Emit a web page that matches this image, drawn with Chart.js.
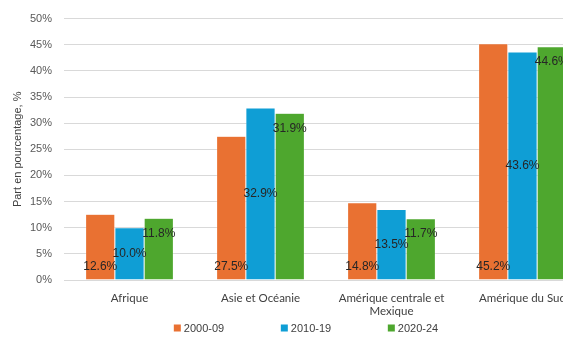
<!DOCTYPE html>
<html>
<head>
<meta charset="utf-8">
<script src="https://cdn.jsdelivr.net/npm/chart.js@4.4.1/dist/chart.umd.min.js"></script>
<style>
  html, body { margin: 0; padding: 0; background: #ffffff; overflow: hidden; }
  #wrap { width: 612px; height: 341px; }
</style>
</head>
<body>
<div id="wrap"><canvas id="c" width="612" height="341"></canvas></div>
<script>
// Regional shares by period (percent)
const categories = ['Afrique', 'Asie et Océanie', ['Amérique centrale et', 'Mexique'], 'Amérique du Sud'];
const seriesNames = ['2000-09', '2010-19', '2020-24'];
const values2000 = [12.6, 27.5, 14.8, 45.2];
const values2010 = [10.0, 32.9, 13.5, 43.6];
const values2020 = [11.8, 31.9, 11.7, 44.6];
const colors = ['#E97132', '#0F9ED5', '#4EA72E'];
const labelPlacement = ['base', 'center', 'end'];

const textFont = '11px "Liberation Sans", Arial, sans-serif';

// Value labels: first series at the bar base, second in the middle, third near the top
const valueLabels = {
  id: 'valueLabels',
  afterDatasetsDraw(chart) {
    const ctx = chart.ctx;
    ctx.save();
    ctx.font = '12px "Liberation Sans", Arial, sans-serif';
    ctx.fillStyle = '#262626';
    ctx.textAlign = 'center';
    ctx.textBaseline = 'middle';
    chart.data.datasets.forEach((ds, di) => {
      const meta = chart.getDatasetMeta(di);
      meta.data.forEach((bar, i) => {
        const v = ds.data[i];
        let y;
        if (labelPlacement[di] === 'base') y = bar.base - 13;
        else if (labelPlacement[di] === 'center') y = (bar.base + bar.y) / 2;
        else y = bar.y + 15;
        ctx.fillText(v.toFixed(1) + '%', bar.x, y);
      });
    });
    ctx.restore();
  }
};

// Legend row along the bottom edge, items on a fixed stride
const bottomLegend = {
  id: 'bottomLegend',
  afterDraw(chart) {
    const ctx = chart.ctx;
    ctx.save();
    ctx.font = textFont;
    ctx.textBaseline = 'middle';
    ctx.textAlign = 'left';
    const stride = 107, box = 7, gap = 3;
    const lastW = box + gap + ctx.measureText(seriesNames[seriesNames.length - 1]).width;
    const total = stride * (seriesNames.length - 1) + lastW;
    let x = chart.width / 2 - total / 2;
    const y = chart.height - 13;
    seriesNames.forEach((name, i) => {
      ctx.fillStyle = colors[i];
      ctx.fillRect(x, y - box / 2, box, box);
      ctx.fillStyle = '#404040';
      ctx.fillText(name, x + box + gap, y + 0.5);
      x += stride;
    });
    ctx.restore();
  }
};

new Chart(document.getElementById('c'), {
  type: 'bar',
  data: {
    labels: categories,
    datasets: [values2000, values2010, values2020].map((d, i) => ({
      label: seriesNames[i],
      data: d,
      backgroundColor: colors[i],
      borderColor: '#ffffff',
      borderWidth: 0.5,
      categoryPercentage: 0.67,
      barPercentage: 1.0
    }))
  },
  options: {
    responsive: false,
    animation: false,
    layout: { padding: { left: 0, right: 24, top: 18, bottom: 24 } },
    scales: {
      x: {
        grid: { display: false, drawTicks: false },
        border: { display: false },
        afterFit(scale) { scale.height = 37; },
        ticks: {
          color: '#404040',
          font: { family: 'Lato, "Open Sans", sans-serif', size: 11.5 },
          padding: 11,
          maxRotation: 0,
          autoSkip: false
        }
      },
      y: {
        min: 0,
        max: 50,
        afterFit(scale) { scale.width = 64; },
        ticks: {
          stepSize: 5,
          color: '#595959',
          padding: 12,
          font: { family: '"Liberation Sans", Arial, sans-serif', size: 11 },
          callback: v => v + '%'
        },
        grid: { color: '#D9D9D9', lineWidth: 1, drawTicks: false },
        border: { display: false },
        title: {
          display: true,
          text: 'Part en pourcentage, %',
          color: '#404040',
          font: { family: '"Liberation Sans", Arial, sans-serif', size: 11 },
          padding: { top: 11, bottom: 0 }
        }
      }
    },
    plugins: {
      legend: { display: false },
      tooltip: { enabled: false }
    }
  },
  plugins: [valueLabels, bottomLegend]
});
</script>
</body>
</html>
